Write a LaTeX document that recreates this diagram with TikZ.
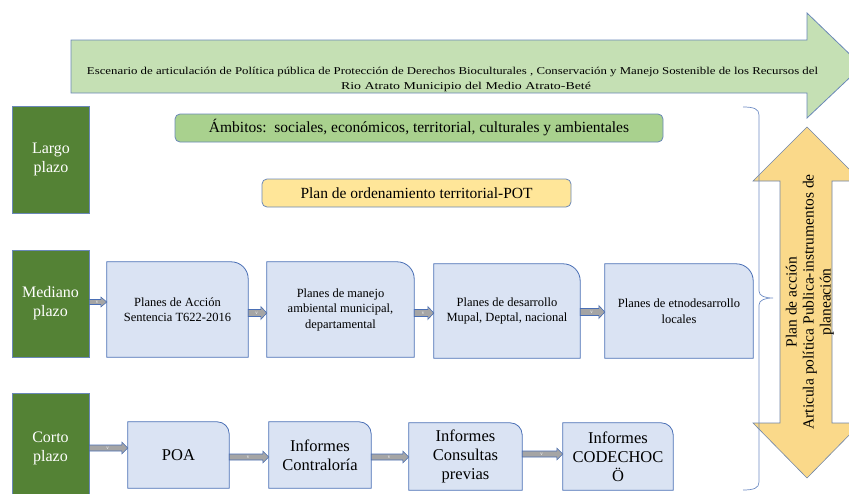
\documentclass[tikz,border=0pt]{standalone}
\usepackage{fontspec}
\setmainfont{Liberation Serif}
\usetikzlibrary{calc}
\definecolor{arrowgreen}{HTML}{C5E0B4}
\definecolor{dkgreen}{HTML}{548235}
\definecolor{ambgreen}{HTML}{A9D18E}
\definecolor{potyellow}{HTML}{FFE699}
\definecolor{boxblue}{HTML}{DAE3F3}
\definecolor{boxborder}{HTML}{4A6FB5}
\definecolor{softborder}{HTML}{6A88B8}
\definecolor{dblyellow}{HTML}{FAD98A}
\definecolor{arrgray}{HTML}{A5A5A5}
\pgfdeclarelayer{background}
\pgfsetlayers{background,main}
\newcommand\cornershape[2]{%
  \begin{pgfonlayer}{background}
  \filldraw[boxline] (#1.south west) -- (#1.north west) -- ([xshift=-#2pt]#1.north east)
    arc[start angle=90,end angle=0,radius=#2pt] -- (#1.south east) -- cycle;
  \end{pgfonlayer}}
\newcommand\blockarr[5]{%
  \draw[smallarr] let \p1=(#1.east), \p2=(#2.west), \p3=(0,#3) in
    (\x1,\y3+#4pt) -- (\x2-6pt,\y3+#4pt) -- (\x2-6pt,\y3+#5pt) -- (\x2,\y3)
    -- (\x2-6pt,\y3-#5pt) -- (\x2-6pt,\y3-#4pt) -- (\x1,\y3-#4pt) -- cycle;
  \path let \p1=(#1.east), \p2=(#2.west), \p3=(0,#3) in
    node[vlab] at ({(\x1+\x2)/2-1pt},\y3) {v};}
\begin{document}
\begin{tikzpicture}[x=1pt,y=-1pt,
  boxline/.style={draw=boxborder,fill=boxblue,line width=0.8pt},
  termbox/.style={fill=dkgreen,draw=softborder,line width=0.8pt,text=white,align=center,
    inner sep=0pt,font=\fontsize{16}{19}\selectfont},
  midtext/.style={inner sep=0pt,align=center,font=\fontsize{12.5}{15.5}\selectfont},
  shorttext/.style={inner sep=0pt,align=center,font=\fontsize{16.5}{19}\selectfont},
  banner/.style={draw=softborder,line width=0.8pt,rounded corners=5pt,inner sep=0pt,
    font=\fontsize{15.5}{18}\selectfont},
  smallarr/.style={fill=arrgray,draw=boxborder,line width=0.6pt},
  vlab/.style={text=white,font=\fontsize{5}{5}\selectfont,inner sep=0pt},
  toptext/.style={inner sep=0pt,font=\fontsize{10.5}{12}\selectfont}]
\useasboundingbox (0,0) rectangle (849,493);
\clip (0,0) rectangle (849,493);

% big green arrow
\draw[fill=arrowgreen,draw=softborder,line width=0.8pt]
  (71,40) -- (807,40) -- (807,13) -- (862,66) -- (807,118) -- (807,93) -- (71,93) -- cycle;
\node[toptext] (esc1) at (452.5,72) {\resizebox{731pt}{\height}{Escenario de articulación de Política pública de Protección de Derechos Bioculturales , Conservación y Manejo Sostenible de los Recursos del}};
\node[toptext] (esc2) at (466,87) {\resizebox{250pt}{\height}{Rio Atrato  Municipio del Medio Atrato-Beté}};

% left terms
\node[termbox,minimum width=77pt,minimum height=107pt] (largo) at (51,159.5) {Largo\\plazo};
\node[termbox,minimum width=77pt,minimum height=107pt] (mediano) at (50.5,303.5) {Mediano\\plazo};
\node[termbox,minimum width=77pt,minimum height=110pt] (corto) at (50.5,448) {Corto\\plazo};

% banners
\node[banner,fill=ambgreen,minimum width=488pt,minimum height=28pt] (ambitos) at (419,128)
  {Ámbitos:\ \ sociales, económicos, territorial, culturales y ambientales};
\node[banner,fill=potyellow,minimum width=309pt,minimum height=28pt] (pot) at (416.5,193)
  {Plan de ordenamiento territorial-POT};

% medium-term boxes
\node[midtext,minimum width=141pt,minimum height=95pt] (m1) at (177.5,309.5) {Planes de Acción\\Sentencia T622-2016};
\cornershape{m1}{17}
\node[midtext,minimum width=147pt,minimum height=95pt] (m2) at (340.5,309.5) {Planes de manejo\\ambiental municipal,\\departamental};
\cornershape{m2}{17}
\node[midtext,minimum width=146pt,minimum height=94pt] (m3) at (507,311) {Planes de desarrollo\\Mupal, Deptal, nacional};
\cornershape{m3}{17}
\node[midtext,minimum width=148pt,minimum height=94pt] (m4) at (679,311) {Planes de etnodesarrollo\\locales};
\cornershape{m4}{17}

% short-term boxes
\node[shorttext,minimum width=101pt,minimum height=66pt] (s1) at (178.5,455) {POA};
\cornershape{s1}{12}
\node[shorttext,minimum width=102pt,minimum height=66pt] (s2) at (320,455) {Informes\\Contraloría};
\cornershape{s2}{12}
\node[shorttext,minimum width=113pt,minimum height=67pt] (s3) at (465.5,456.5) {Informes\\Consultas\\previas};
\cornershape{s3}{12}
\node[shorttext,minimum width=110pt,minimum height=67pt] (s4) at (618,456.5) {Informes\\CODECHOC\\Ö};
\cornershape{s4}{12}

% small block arrows
\blockarr{mediano}{m1}{302}{2.5}{5}
\blockarr{m1}{m2}{313}{3.5}{6.5}
\blockarr{m2}{m3}{313}{3.5}{6.5}
\blockarr{m3}{m4}{312}{3.5}{6.5}
\blockarr{corto}{s1}{448}{3}{6}
\blockarr{s1}{s2}{457}{3}{6}
\blockarr{s2}{s3}{457}{3}{6}
\blockarr{s3}{s4}{454}{3}{6}

% yellow double arrow
\draw[fill=dblyellow,draw=softborder!70!gray,line width=0.6pt]
  (807,127) -- (861,181) -- (832,181) -- (832,423) -- (861,423) -- (807,478)
  -- (753,423) -- (780,423) -- (780,181) -- (753,181) -- cycle;
\node[inner sep=0pt,align=center,rotate=90,font=\fontsize{15.5}{17}\selectfont] (plan) at (810,302)
  {Plan de acción\\Articula política Publica-instrumentos de\\planeación};

% brace
\draw[draw=boxborder!80,line width=0.7pt]
  (743,107) .. controls (754,107) and (759,109) .. (759,115) -- (759,291)
  .. controls (759,296) and (765,298) .. (773,298)
  .. controls (765,298) and (759,300) .. (759,305) -- (759,482)
  .. controls (759,488) and (754,490) .. (743,490);
\end{tikzpicture}
\end{document}
